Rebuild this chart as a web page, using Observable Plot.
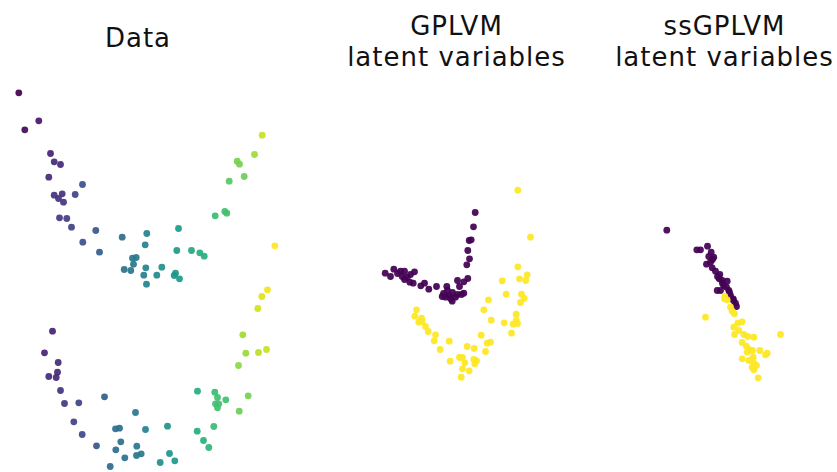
<!DOCTYPE html>
<html>
<head>
<meta charset="utf-8">
<script src="https://cdn.jsdelivr.net/npm/d3@7"></script>
<script src="https://cdn.jsdelivr.net/npm/@observablehq/plot@0.6"></script>
<style>
  html, body { margin: 0; padding: 0; background: #fff; }
  #wrap { position: relative; width: 837px; height: 472px; overflow: hidden; }
  .title { position: absolute; width: 300px; font-family: "DejaVu Sans", sans-serif; font-size: 26px; letter-spacing: 1px; line-height: 26px; height: 26px; text-align: center; color: #111; white-space: nowrap; }
  #plot { position: absolute; left: 0; top: 80px; }
</style>
</head>
<body>
<div id="wrap">
  <div id="titles"></div>
  <div id="plot"></div>
</div>
<script>
// Panel titles: text lines, centre x and top of each line (picture units)
const titleLines = ["Data", "GPLVM", "latent variables", "ssGPLVM", "latent variables"];
const titleCenters = [138, 456.5, 456.5, 724.5, 724.5];
const titleTops = [25, 12.5, 43.5, 12.5, 43.5];

// "Data" panel: [x, y, colour position along the curve 0..1]
const dataPoints = [
  [18.3,92.3,0.0],[38.3,120.3,0.06],[24.3,129.3,0.03],[50,153,0.10],[53.7,161.3,0.12],[60,164,0.12],
  [48.3,176.7,0.12],[82,184,0.25],[53.7,194.7,0.15],[61.7,193.3,0.15],[58,198,0.15],[63,201.7,0.16],
  [74.7,194,0.2],[59,217.3,0.17],[66.3,218,0.18],[71,226.7,0.2],[95.3,230,0.28],[82.3,241.7,0.25],
  [99,251.7,0.3],[121.7,236.7,0.36],[146.3,233,0.44],[144.7,244.3,0.44],[178,228,0.55],[176.3,250,0.55],
  [191,250,0.6],[199.3,252.3,0.62],[203.7,255.7,0.63],[132,257.7,0.4],[135.7,257,0.4],[133,263.7,0.4],
  [123.7,269,0.38],[130.3,270,0.4],[145.3,267.3,0.44],[161.3,266.7,0.5],[143.3,274.7,0.43],[156.3,274.7,0.47],
  [175,272.7,0.54],[173.7,275,0.53],[179,278.3,0.55],[146,283.7,0.45],[214.7,215.3,0.68],[224.3,211,0.7],
  [226.3,212.7,0.7],[228.7,180.7,0.74],[243.7,176,0.78],[236.7,160.7,0.8],[239,163.7,0.8],[254,154,0.86],
  [261.7,134.7,0.92],[274.3,245.3,1.0],
  [52,330.7,0.1],[44,352.3,0.1],[57.7,362,0.12],[57,371.7,0.12],[48.3,376,0.12],[55.7,377,0.12],
  [60,390,0.15],[64,403,0.17],[78.3,402.3,0.2],[104,396.3,0.3],[73.3,421.3,0.2],[81.7,434,0.22],
  [96,445.3,0.27],[135,412,0.4],[115,428.3,0.36],[119,427.7,0.36],[145,429,0.44],[167,425.7,0.52],
  [120.3,441.3,0.37],[115.3,449.3,0.36],[136.3,445.7,0.4],[124.3,457.3,0.38],[136,455,0.4],[140.7,453.3,0.41],
  [169,453,0.53],[159.7,462,0.5],[174.3,460.3,0.54],[109.7,466,0.34],[197,390.7,0.62],[214.3,391.7,0.68],
  [217,397,0.7],[225.3,399.3,0.7],[247.7,395.3,0.8],[215,403.3,0.7],[218.3,403.3,0.7],[217,407.3,0.7],
  [238.7,410.7,0.78],[213.3,426,0.68],[196.7,430.7,0.62],[203,440,0.64],[208.3,447,0.66],[267,289.3,0.98],
  [261.3,296,0.95],[257.3,308,0.93],[242.3,334.3,0.86],[245.3,352.7,0.85],[258,352,0.9],[266,349,0.92],
  [238,365,0.83]
];

// GPLVM latent variables, class 0 (purple) and class 1 (yellow)
const gplvm0 = [
  [474.7,212],[473,226.3],[468.7,240],[470.7,239.3],[467.3,250],[469,258.3],[466.3,264.3],[384.7,272.7],
  [393.3,268.7],[390,276],[400,270.7],[404,270.7],[401.7,276],[406.7,276.7],[410,274],[414,271.3],
  [409.3,281.7],[412.7,282.7],[420.3,285.3],[424,282.7],[428.3,288.7],[436,286],[446.3,286],[447,290],
  [441.7,296],[445,296.7],[448.7,295.3],[451.7,300.7],[455,296.7],[457,294],[463.3,292.7],[461,294],
  [457,280],[459,286],[463.3,281.3],[467.3,278],[404,279],[397,273],[443,293],[452,292],[450,298]
];
const gplvm1 = [
  [517.3,189.7],[530,236.7],[517.3,266.3],[526.7,274.3],[519,278.3],[525.3,280],[501.7,280.3],[505.7,293.7],
  [521,293.7],[523.7,298],[520,302],[488,299.3],[483.3,309.3],[515.7,313.7],[490.7,319.7],[503.7,322.3],
  [512.7,323.7],[517,323],[515.7,320],[511,332.7],[416,309.3],[414.3,315.7],[421,317.7],[418.3,321.7],
  [421.7,321],[425,326],[427.7,331],[435,334.3],[433.7,340.3],[448.7,340.7],[439.7,349],[480.7,334.7],
  [486.7,342.7],[490,341.7],[466.7,346],[473.7,348],[485,351],[459,357],[462,357],[473.3,359],
  [476,360.3],[474.3,363.3],[464.3,362.3],[449.7,360.7],[462,368.3],[468.7,370.3],[460.7,376.7]
];

// ssGPLVM latent variables, class 0 (purple) and class 1 (yellow)
const ssgplvm0 = [
  [666.3,229.7],[696.3,249.3],[700,249.3],[707,245.7],[710.7,251.7],[708.3,256],[713.3,256.7],[706,263.7],
  [710,261.7],[711.7,267.3],[715,270.7],[719.3,274],[718.7,278.3],[721.7,280],[726.7,280.7],[723.3,285],
  [726,286.7],[728.3,290],[716.7,290],[720,290],[730,295],[732.7,298.3],[735,302.7],[736,306],
  [712,259],[717,276],[722,283],[729,292],[733,300]
];
const ssgplvm1 = [
  [724.3,296],[726.7,299.3],[724,298.3],[730,306.7],[731.7,310.7],[734,313.3],[705,316.7],[737.3,322.7],
  [741.7,321.3],[733.3,326.7],[738.3,330],[734,334],[743.3,334],[747.3,336],[753.3,336.7],[741.7,342],
  [746,345.7],[780,334],[749.3,349.3],[746.7,351.7],[752,350],[759.3,350],[766.7,352.7],[765,354.3],
  [741.7,358.3],[748.3,360],[752.7,356.7],[753.3,362.7],[756,365],[751.7,366.7],[753.3,369.3],[757.7,377.3]
];

// Titles (HTML, above the SVG)
const tbox = document.getElementById("titles");
titleLines.forEach((txt, i) => {
  const el = document.createElement("div");
  el.className = "title";
  el.textContent = txt;
  el.style.left = (titleCenters[i] - 150) + "px";
  el.style.top = titleTops[i] + "px";
  tbox.appendChild(el);
});

const toRows = (arr, c) => arr.map(d => ({x: d[0], y: d[1], c: c === undefined ? d[2] : c}));
const rowsData = toRows(dataPoints);
const rowsLatent = [
  ...toRows(gplvm0, 0), ...toRows(gplvm1, 1),
  ...toRows(ssgplvm0, 0), ...toRows(ssgplvm1, 1)
];

const chart = Plot.plot({
  width: 837,
  height: 392,
  margin: 0,
  x: {domain: [0, 837], axis: null},
  y: {domain: [80, 472], reverse: true, axis: null},
  color: {type: "linear", scheme: "viridis", domain: [0, 1]},
  style: {background: "#fff"},
  marks: [
    Plot.dot(rowsData, {x: "x", y: "y", fill: "c", r: 3.4, fillOpacity: 0.93, stroke: "none"}),
    Plot.dot(rowsLatent, {x: "x", y: "y", fill: "c", r: 3.4, fillOpacity: 0.93, stroke: "none"})
  ]
});
document.getElementById("plot").appendChild(chart);
</script>
</body>
</html>
